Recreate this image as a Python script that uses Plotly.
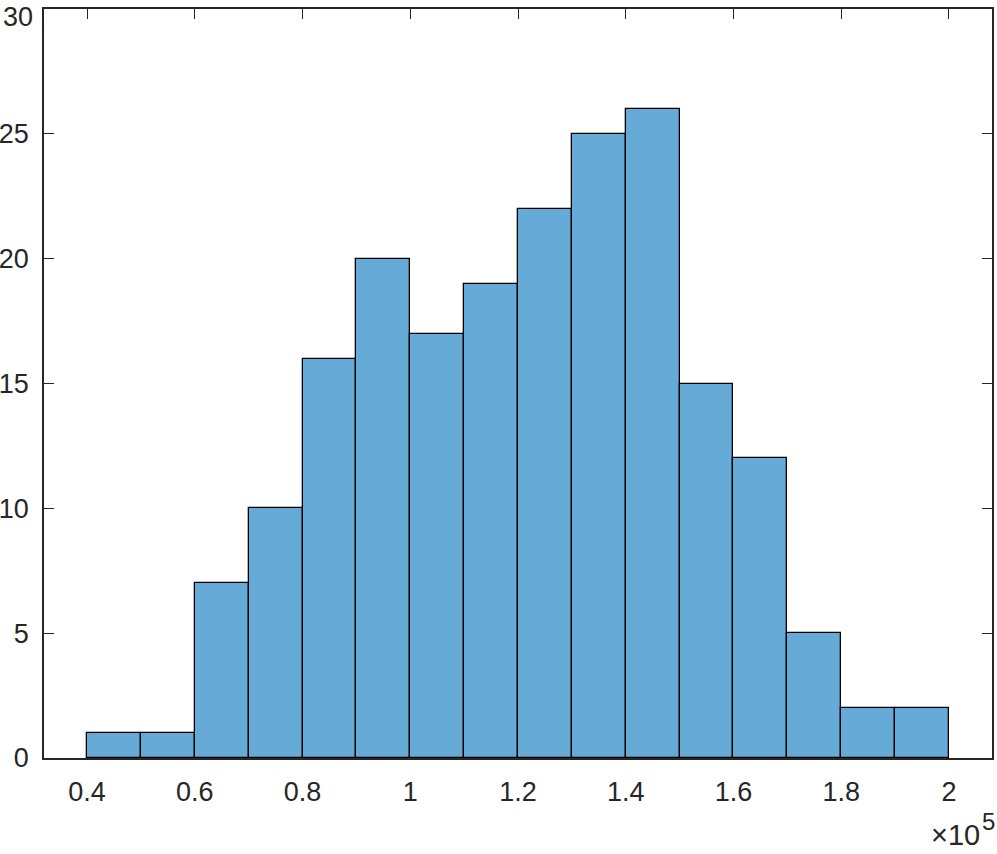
import plotly.graph_objects as go

bin_left = [40000, 50000, 60000, 70000, 80000, 90000, 100000, 110000,
            120000, 130000, 140000, 150000, 160000, 170000, 180000, 190000]
bin_width = 10000
counts = [1, 1, 7, 10, 16, 20, 17, 19, 22, 25, 26, 15, 12, 5, 2, 2]

x_tickvals = [40000, 60000, 80000, 100000, 120000, 140000, 160000, 180000, 200000]
x_ticktext = ["0.4", "0.6", "0.8", "1", "1.2", "1.4", "1.6", "1.8", "2"]
y_tickvals = [0, 5, 10, 15, 20, 25, 30]
y_ticktext = ["0", "5", "10", "15", "20", "25", ""]
top_label = "30"
exp_base = "×10"
exp_power = "5"

axis_color = "#262626"
family = "Liberation Sans, Arial, sans-serif"
font = dict(family=family, size=27, color=axis_color)

fig = go.Figure()
fig.add_trace(go.Bar(
    x=bin_left, y=counts, width=[bin_width] * len(bin_left), offset=0,
    marker=dict(color="#66AAD7", line=dict(color="#000000", width=1.3)),
    showlegend=False,
))

fig.update_layout(
    width=997, height=854,
    margin=dict(l=44, r=5, t=9, b=96, autoexpand=False),
    paper_bgcolor="white", plot_bgcolor="white",
    font=font, bargap=0,
    xaxis=dict(range=[32000, 208000], tickvals=x_tickvals, ticktext=x_ticktext,
               ticks="inside", ticklen=10, tickwidth=1.3, tickcolor=axis_color,
               showline=True, linecolor=axis_color, linewidth=1.5, mirror="ticks",
               showgrid=False, zeroline=False, ticklabelstandoff=9, automargin=False,
               ticklabeloverflow="allow", layer="below traces"),
    yaxis=dict(range=[0, 30], tickvals=y_tickvals, ticktext=y_ticktext,
               ticks="inside", ticklen=10, tickwidth=1.3, tickcolor=axis_color,
               showline=True, linecolor=axis_color, linewidth=1.5, mirror="ticks",
               showgrid=False, zeroline=False, ticklabelstandoff=8, automargin=False,
               ticklabeloverflow="allow", layer="below traces"),
    annotations=[
        dict(text=top_label, xref="paper", yref="paper", x=0, y=1,
             xanchor="right", yanchor="middle", xshift=-9, yshift=-8,
             showarrow=False, font=font),
        dict(text=exp_base, xref="paper", yref="paper", x=1, y=0,
             xanchor="right", yanchor="middle", xshift=-10, yshift=-77,
             showarrow=False, font=dict(family=family, size=29, color=axis_color)),
        dict(text=exp_power, xref="paper", yref="paper", x=1, y=0,
             xanchor="left", yanchor="middle", xshift=-12, yshift=-63,
             showarrow=False, font=dict(family=family, size=24, color=axis_color)),
    ],
)

fig.write_html("out.html", config={"displayModeBar": False},
               post_script="document.body.style.margin='0';")
